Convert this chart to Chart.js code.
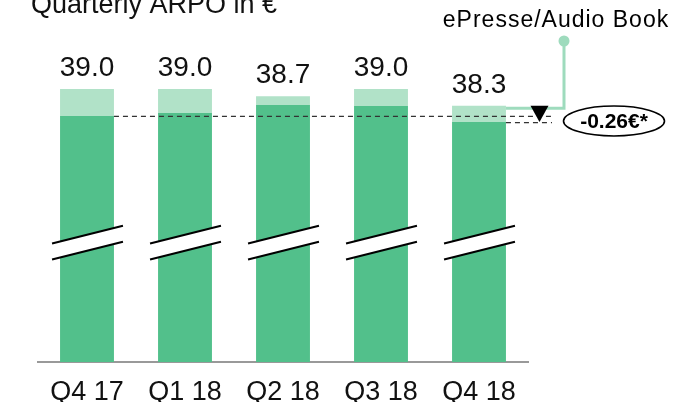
<!DOCTYPE html>
<html>
<head>
<meta charset="utf-8">
<script src="https://cdn.jsdelivr.net/npm/chart.js@4"></script>
<style>
    html, body { margin: 0; padding: 0; background: #fff; }
    #wrap { width: 697px; height: 402px; position: relative; }
</style>
</head>
<body>
<div id="wrap"><canvas id="arpoChart"></canvas></div>
<script>
const quarters = ['Q4 17', 'Q1 18', 'Q2 18', 'Q3 18', 'Q4 18'];
const totalArpo = [39.0, 39.0, 38.7, 39.0, 38.3];
const coreArpo = [37.88, 38.0, 38.33, 38.29, 37.62];
const totalLabels = ['39.0', '39.0', '38.7', '39.0', '38.3'];
const deltaLabel = '-0.26€*';
const calloutLabel = 'ePresse/Audio Book';
const titleText = 'Quarterly ARPO in €';

const FONT = "'Liberation Sans', Arial, Helvetica, sans-serif";
const DARK = '#52c08b';
const LIGHT = '#b1e2c8';
const LINK = '#9edbbd';

// the ePresse part sits on top of the core ARPO
const extraArpo = totalArpo.map((t, i) => +(t - coreArpo[i]).toFixed(2));

const overlayPlugin = {
    id: 'overlay',
    afterDatasetsDraw(chart) {
        const ctx = chart.ctx;
        const y = chart.scales.y;
        const core = chart.getDatasetMeta(0).data;
        const top = chart.getDatasetMeta(1).data;
        ctx.save();

        // axis break marks
        const breakY = y.getPixelForValue(32.6);
        core.forEach(bar => {
            const x0 = bar.x - bar.width / 2 - 8;
            const x1 = bar.x + bar.width / 2 + 9;
            const rise = (x1 - x0) * 0.25;
            const yL1 = breakY + rise / 2 - 8, yR1 = breakY - rise / 2 - 8;
            const yL2 = breakY + rise / 2 + 8, yR2 = breakY - rise / 2 + 8;
            ctx.fillStyle = '#fff';
            ctx.beginPath();
            ctx.moveTo(x0, yL1); ctx.lineTo(x1, yR1); ctx.lineTo(x1, yR2); ctx.lineTo(x0, yL2);
            ctx.closePath();
            ctx.fill();
            ctx.strokeStyle = '#000';
            ctx.lineWidth = 2;
            ctx.beginPath();
            ctx.moveTo(x0, yL1); ctx.lineTo(x1, yR1);
            ctx.moveTo(x0, yL2); ctx.lineTo(x1, yR2);
            ctx.stroke();
        });

        // value labels
        ctx.fillStyle = '#111';
        ctx.font = '28px ' + FONT;
        ctx.textAlign = 'center';
        ctx.textBaseline = 'alphabetic';
        top.forEach((bar, i) => ctx.fillText(totalLabels[i], bar.x, bar.y - 13));

        // dashed reference lines
        const first = core[0], last = core[core.length - 1];
        const endX = 552;
        ctx.strokeStyle = '#333';
        ctx.lineWidth = 1.2;
        ctx.setLineDash([5, 4]);
        ctx.beginPath();
        ctx.moveTo(first.x + first.width / 2, first.y + 0.5);
        ctx.lineTo(endX, first.y + 0.5);
        ctx.moveTo(last.x + last.width / 2, last.y + 0.5);
        ctx.lineTo(endX, last.y + 0.5);
        ctx.stroke();
        ctx.setLineDash([]);

        // callout connector
        const lastTop = top[top.length - 1];
        const cx = 564;
        ctx.strokeStyle = LINK;
        ctx.lineWidth = 3;
        ctx.beginPath();
        ctx.moveTo(lastTop.x + lastTop.width / 2, lastTop.y + 2.5);
        ctx.lineTo(cx, lastTop.y + 2.5);
        ctx.lineTo(cx, 42);
        ctx.stroke();
        ctx.fillStyle = LINK;
        ctx.beginPath();
        ctx.arc(cx, 41, 5.5, 0, Math.PI * 2);
        ctx.fill();

        // down triangle
        const tx = 539.5;
        ctx.fillStyle = '#000';
        ctx.beginPath();
        ctx.moveTo(tx - 9, lastTop.y);
        ctx.lineTo(tx + 9, lastTop.y);
        ctx.lineTo(tx, last.y);
        ctx.closePath();
        ctx.fill();

        // delta ellipse
        ctx.strokeStyle = '#000';
        ctx.lineWidth = 1.6;
        ctx.beginPath();
        ctx.ellipse(614, 121, 50.5, 15, 0, 0, Math.PI * 2);
        ctx.stroke();
        ctx.fillStyle = '#000';
        ctx.font = 'bold 21px ' + FONT;
        ctx.textBaseline = 'middle';
        ctx.fillText(deltaLabel, 614, 122);

        // callout text and title
        ctx.textBaseline = 'alphabetic';
        ctx.font = '23px ' + FONT;
        ctx.letterSpacing = '1px';
        ctx.fillText(calloutLabel, 556, 27);
        ctx.letterSpacing = '0px';
        ctx.textAlign = 'left';
        ctx.font = '27px ' + FONT;
        ctx.fillStyle = '#111';
        ctx.fillText(titleText, 31, 13);

        ctx.restore();
    }
};

new Chart(document.getElementById('arpoChart'), {
    type: 'bar',
    plugins: [overlayPlugin],
    data: {
        labels: quarters,
        datasets: [
            { data: coreArpo, backgroundColor: DARK, borderWidth: 0, clip: 0 },
            { data: extraArpo, backgroundColor: LIGHT, borderWidth: 0, clip: 0 }
        ]
    },
    options: {
        responsive: true,
        maintainAspectRatio: false,
        animation: false,
        layout: { padding: { left: 38, right: 169, top: 17, bottom: 0 } },
        plugins: { legend: { display: false }, tooltip: { enabled: false } },
        datasets: { bar: { barPercentage: 0.55, categoryPercentage: 1 } },
        scales: {
            x: {
                stacked: true,
                grid: { display: false, drawTicks: false },
                border: { display: true, color: '#999', width: 2 },
                ticks: { color: '#111', padding: 14, font: { family: FONT, size: 27 } },
                afterFit: scale => { scale.height = 40; }
            },
            y: {
                stacked: true,
                display: false,
                min: 27.625,
                max: 42
            }
        }
    }
});
</script>
</body>
</html>
